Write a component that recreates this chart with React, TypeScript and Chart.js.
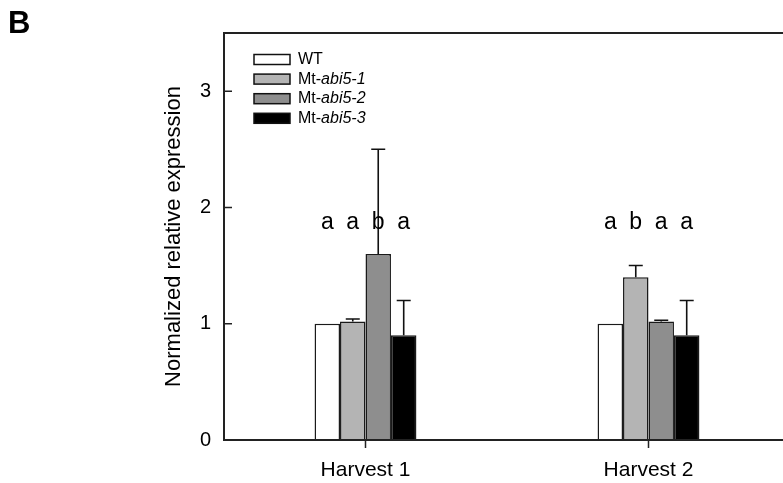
import React, { useEffect, useRef } from "react";
import { Chart, registerables } from "chart.js";

Chart.register(...registerables);

const categories = ["Harvest 1", "Harvest 2"];
const seriesLabels = ["WT", "Mt-abi5-1", "Mt-abi5-2", "Mt-abi5-3"];
const wtValues = [1.0, 1.0];
const abi51Values = [1.02, 1.4];
const abi52Values = [1.6, 1.02];
const abi53Values = [0.9, 0.9];
const wtErrors = [0, 0];
const abi51Errors = [0.02, 0.1];
const abi52Errors = [0.9, 0.01];
const abi53Errors = [0.3, 0.3];
const wtLetters = ["a", "a"];
const abi51Letters = ["a", "b"];
const abi52Letters = ["b", "a"];
const abi53Letters = ["a", "a"];
const letterLevel = 1.87;
const yTicks = [0, 1, 2, 3];

const FONT = "'Liberation Sans', Arial, sans-serif";
const fills = ["#ffffff", "#b4b4b4", "#8e8e8e", "#000000"];

const allErrors = [wtErrors, abi51Errors, abi52Errors, abi53Errors];
const allLetters = [wtLetters, abi51Letters, abi52Letters, abi53Letters];
const allValues = [wtValues, abi51Values, abi52Values, abi53Values];

const overlay = {
  id: "overlay",
  afterDatasetsDraw(chart: any) {
    const ctx = chart.ctx;
    const { left, right, top, bottom } = chart.chartArea;
    const y = chart.scales.y;
    const x = chart.scales.x;
    ctx.save();
    // error bars
    ctx.strokeStyle = "#111";
    ctx.lineWidth = 1.6;
    allValues.forEach((vals, i) => {
      const meta = chart.getDatasetMeta(i);
      vals.forEach((v, j) => {
        const err = allErrors[i][j];
        if (!err) return;
        const bx = meta.data[j].x;
        const y0 = y.getPixelForValue(v);
        const y1 = y.getPixelForValue(v + err);
        ctx.beginPath();
        ctx.moveTo(bx, y0);
        ctx.lineTo(bx, y1);
        ctx.moveTo(bx - 7, y1);
        ctx.lineTo(bx + 7, y1);
        ctx.stroke();
      });
    });
    // letters
    ctx.fillStyle = "#000";
    ctx.font = `23px ${FONT}`;
    ctx.textAlign = "center";
    ctx.textBaseline = "middle";
    allLetters.forEach((lets, i) => {
      const meta = chart.getDatasetMeta(i);
      lets.forEach((t, j) => {
        ctx.fillText(t, meta.data[j].x, y.getPixelForValue(letterLevel));
      });
    });
    // frame
    ctx.strokeStyle = "#222";
    ctx.lineWidth = 2;
    ctx.beginPath();
    ctx.moveTo(right, top);
    ctx.lineTo(left, top);
    ctx.lineTo(left, bottom);
    ctx.lineTo(right, bottom);
    ctx.stroke();
    ctx.lineWidth = 1.5;
    ctx.beginPath();
    yTicks.forEach((t) => {
      if (t === 0) return;
      const py = y.getPixelForValue(t);
      ctx.moveTo(left, py);
      ctx.lineTo(left + 8, py);
    });
    categories.forEach((_, j) => {
      const px = x.getPixelForValue(j);
      ctx.moveTo(px, bottom);
      ctx.lineTo(px, bottom + 8);
    });
    ctx.stroke();
    // legend
    ctx.font = `16px ${FONT}`;
    ctx.textAlign = "left";
    seriesLabels.forEach((lab, i) => {
      const cy = 59.5 + i * 19.6;
      ctx.fillStyle = fills[i];
      ctx.fillRect(254, cy - 5, 36, 10);
      ctx.strokeStyle = "#111";
      ctx.lineWidth = 1.5;
      ctx.strokeRect(254, cy - 5, 36, 10);
      ctx.fillStyle = "#000";
      if (lab.startsWith("Mt-")) {
        ctx.font = `16px ${FONT}`;
        ctx.fillText("Mt-", 298, cy);
        const w = ctx.measureText("Mt-").width;
        ctx.font = `italic 16px ${FONT}`;
        ctx.fillText(lab.slice(3), 298 + w, cy);
        ctx.font = `16px ${FONT}`;
      } else {
        ctx.fillText(lab, 298, cy);
      }
    });
    // panel letter
    ctx.font = `bold 31px ${FONT}`;
    ctx.fillText("B", 8, 24);
    ctx.restore();
  },
};

export default function App() {
  const ref = useRef<HTMLCanvasElement>(null);
  useEffect(() => {
    document.body.style.margin = "0";
    document.body.style.overflow = "hidden";
    const chart = new Chart(ref.current as HTMLCanvasElement, {
      type: "bar",
      data: {
        labels: categories,
        datasets: allValues.map((vals, i) => ({
          label: seriesLabels[i],
          data: vals,
          backgroundColor: fills[i],
          borderColor: "#1a1a1a",
          borderWidth: 1.5,
          categoryPercentage: 0.36,
          barPercentage: 1.0,
        })),
      },
      options: {
        animation: false,
        responsive: false,
        devicePixelRatio: 1,
        layout: { padding: { left: 0, top: 33, right: 10, bottom: 0 } },
        plugins: { legend: { display: false }, tooltip: { enabled: false } },
        scales: {
          x: {
            grid: { display: false, drawTicks: false },
            border: { display: false },
            ticks: { font: { family: FONT, size: 21 }, color: "#000", padding: 18 },
            afterFit: (s: any) => {
              s.height = 43;
            },
          },
          y: {
            min: 0,
            max: 3.5,
            afterBuildTicks: (s: any) => {
              s.ticks = yTicks.map((v) => ({ value: v }));
            },
            grid: { display: false, drawTicks: false },
            border: { display: false },
            ticks: { font: { family: FONT, size: 20 }, color: "#000", padding: 13 },
            title: {
              display: true,
              text: "Normalized relative expression",
              font: { family: FONT, size: 22 },
              color: "#000",
              padding: { top: 161, bottom: 0 },
            },
            afterFit: (s: any) => {
              s.width = 224;
            },
          },
        },
      },
      plugins: [overlay],
    });
    return () => chart.destroy();
  }, []);
  return (
    <div style={{ position: "fixed", left: 0, top: 0, width: 783, height: 483, overflow: "hidden", background: "#fff" }}>
      <canvas ref={ref} width={800} height={483} style={{ display: "block" }} />
    </div>
  );
}
